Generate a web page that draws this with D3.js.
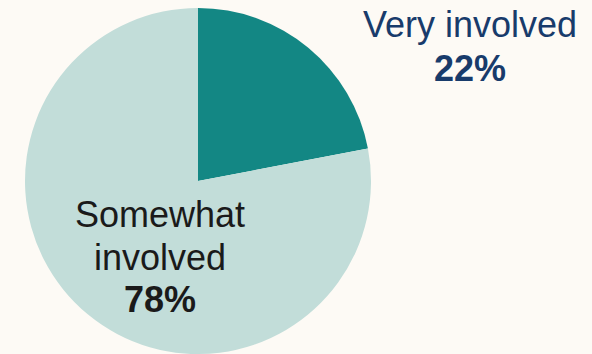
<!DOCTYPE html>
<html>
<head>
<meta charset="utf-8">
<script src="https://cdn.jsdelivr.net/npm/d3@7"></script>
<style>
  html, body { margin: 0; padding: 0; background: #fdfaf5; }
  svg { display: block; }
</style>
</head>
<body>
<svg id="chart" width="592" height="354"></svg>
<script>
const categories = ['Very involved', 'Somewhat involved'];
const values     = [22, 78];
const colors     = ['#138784', '#c2ddd9'];

const W = 592, H = 354;
const CX = 198, CY = 181, R = 173;

const svg = d3.select('#chart');
svg.append('rect').attr('width', W).attr('height', H).attr('fill', '#fdfaf5');

const pie = d3.pie().sort(null).value(d => d.value);
const arc = d3.arc().innerRadius(0).outerRadius(R);

const data = categories.map((c, i) => ({ name: c, value: values[i], color: colors[i] }));

const g = svg.append('g').attr('transform', `translate(${CX},${CY})`);
g.selectAll('path')
  .data(pie(data))
  .join('path')
  .attr('d', arc)
  .attr('fill', d => d.data.color);

// ── Labels ─────────────────────────────────────────────
const font = 'Liberation Sans, Arial, sans-serif';

function label(x, y0, lines, pct, color, lh) {
  const t = svg.append('text')
    .attr('text-anchor', 'middle')
    .attr('font-family', font)
    .attr('font-size', 36)
    .attr('fill', color);
  lines.forEach((ln, i) => {
    t.append('tspan').attr('x', x).attr('y', y0 + i * lh).text(ln);
  });
  t.append('tspan')
    .attr('x', x).attr('y', y0 + lines.length * lh)
    .attr('font-weight', 'bold')
    .text(pct + '%');
}

label(470, 37, ['Very involved'], values[0], '#183b6b', 44);
label(160, 227, ['Somewhat', 'involved'], values[1], '#1a1a1a', 42.5);
</script>
</body>
</html>
